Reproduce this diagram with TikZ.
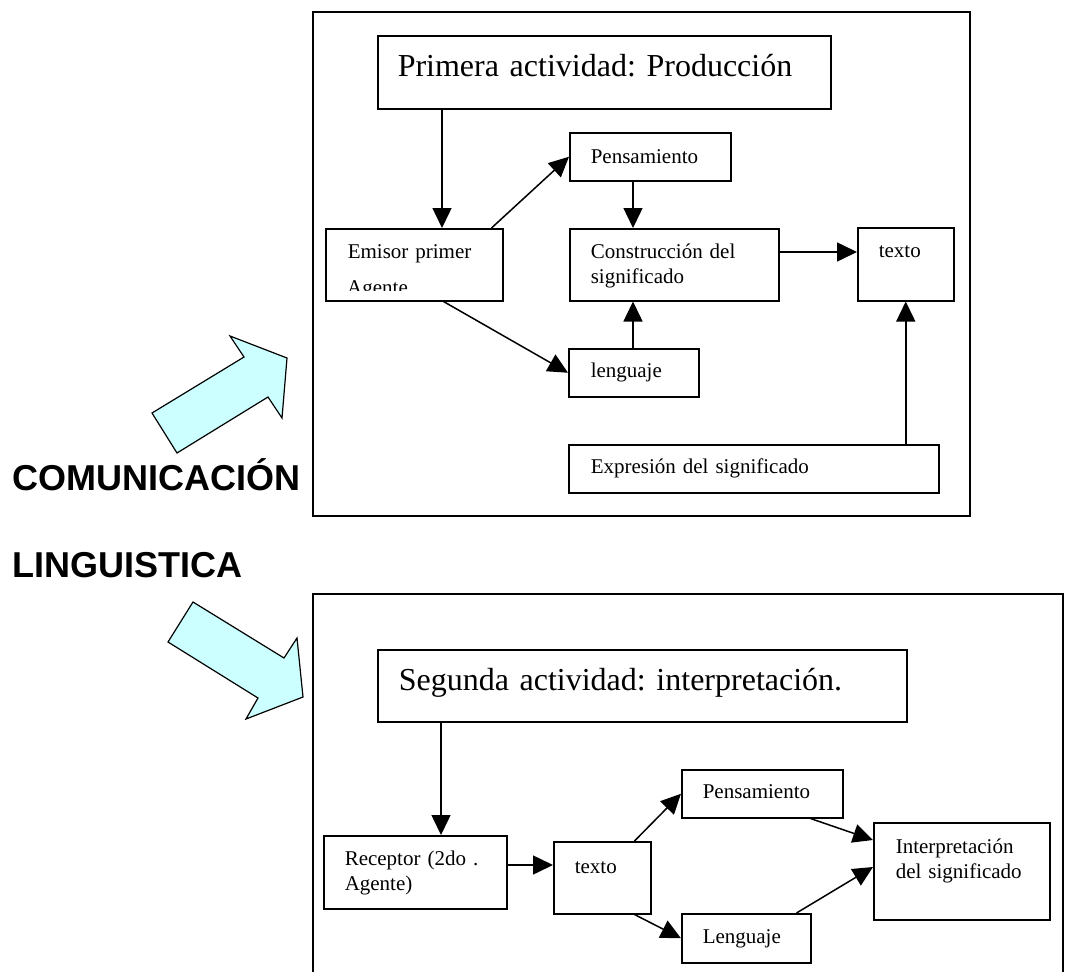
\documentclass[tikz,border=0pt]{standalone}
\usepackage{fontspec}
\setmainfont{Liberation Serif}
\newfontfamily\rotulofont{Liberation Sans}
\usetikzlibrary{arrows.meta, positioning, calc}
\definecolor{turquesa}{rgb}{0.8,1,1}
\frenchspacing

\begin{document}
\begin{tikzpicture}[x=1pt, y=-1pt,
	actbox/.style={draw, line width=1.5pt, anchor=north west, align=left, inner ysep=0pt, font=\fontsize{21}{25}\selectfont},
	titlebox/.style={actbox, font=\fontsize{32}{38}\selectfont},
	flecha/.style={line width=1.5pt, -{Triangle[length=20pt,width=19pt]}},
	bigarrow/.style={draw, line width=1.2pt, fill=turquesa, line join=miter}]
	\useasboundingbox (0,0) rectangle (1068,972);
	
	%----------------------------------------------------------------
	\draw [line width=1.5pt] (313,12) rectangle (970,516);
	\draw [line width=1.5pt] (313,972) |- (1063,594) -- (1063,972);
	
	\draw [bigarrow] (152,413) -- (244,357) -- (230,336) -- (287,358) -- (282,418) -- (268,397) -- (177,453) -- cycle;
	\draw [bigarrow] (193,602) -- (284,658) -- (297,638) -- (303,697) -- (246,719) -- (258,698) -- (168,642) -- cycle;
	
	\node(comu) [anchor=base west, inner sep=0pt, font=\rotulofont\bfseries\fontsize{36}{40}\selectfont] at (12,490) {COMUNICACIÓN};
	\node(ling) [anchor=base west, inner sep=0pt, font=\rotulofont\bfseries\fontsize{36}{40}\selectfont] at (12,577) {LINGUISTICA};
	
	%----------------------------------------------------------------
	\node(prod) [titlebox, inner xsep=20pt, text width=413pt, text height=41pt, text depth=32pt] at (377,35) {Primera actividad: Producción};
	\node(emisor) [actbox, inner xsep=22pt, text width=133pt, text height=30pt, text depth=42pt] at (325,228) {Emisor primer};
	\begin{scope}
		\clip (emisor.north west) rectangle ([yshift=11pt]emisor.south east);
		\node(agente) [anchor=base west, inner sep=0pt, font=\fontsize{21}{25}\selectfont] at (347,294) {Agente};
	\end{scope}
	\node(pens) [actbox, inner xsep=21pt, text width=119pt, text height=31pt, text depth=17pt] at (569,132) {Pensamiento};
	\node(constr) [actbox, inner xsep=21pt, text width=167pt, text height=30pt, text depth=42pt] at (569,228) {Construcción del\\ significado};
	\node(texto) [actbox, inner xsep=21pt, text width=54pt, text height=30pt, text depth=43pt] at (857,227) {texto};
	\node(leng) [actbox, inner xsep=22pt, text width=86pt, text height=29pt, text depth=19pt] at (568,348) {lenguaje};
	\node(expr) [actbox, inner xsep=22pt, text width=326pt, text height=29pt, text depth=19pt] at (568,444) {Expresión del significado};
	
	\draw [flecha] ([xshift=65pt]prod.south west) -- ([xshift=65pt]prod.south west |- emisor.north);
	\draw [flecha] ([xshift=-12pt]emisor.north east) -- (pens.west);
	\draw [flecha] ([xshift=-60pt]emisor.south east) -- (leng.west);
	\draw [flecha] ([xshift=64pt]pens.south west) -- ([xshift=64pt]pens.south west |- constr.north);
	\draw [flecha] ([xshift=65pt]leng.north west) -- ([xshift=65pt]leng.north west |- constr.south);
	\draw [flecha] ([yshift=-24pt]constr.north east) -- ([yshift=-24pt]constr.north east -| texto.west);
	\draw [flecha] (texto.south |- expr.north) -- (texto.south);
	
	%----------------------------------------------------------------
	\node(interp) [titlebox, inner xsep=21pt, text width=487pt, text height=41pt, text depth=31pt] at (377,649) {Segunda actividad: interpretación.};
	\node(recep) [actbox, inner xsep=21pt, text width=141pt, text height=30pt, text depth=43pt] at (323,835) {Receptor (2do .\\ Agente)};
	\node(texto2) [actbox, inner xsep=21pt, text width=55pt, text height=32pt, text depth=40pt] at (553,841) {texto};
	\node(pens2) [actbox, inner xsep=21pt, text width=119pt, text height=29pt, text depth=19pt] at (681,769) {Pensamiento};
	\node(leng2) [actbox, inner xsep=21pt, text width=87pt, text height=30pt, text depth=19pt] at (681,913) {Lenguaje};
	\node(signif) [actbox, inner xsep=22pt, text width=132pt, text height=31pt, text depth=66pt] at (873,822) {Interpretación\\ del significado};
	
	\draw [flecha] ([xshift=64pt]interp.south west) -- ([xshift=64pt]interp.south west |- recep.north);
	\draw [flecha] ([yshift=-30pt]recep.north east) -- ([yshift=-30pt]recep.north east -| texto2.west);
	\draw [flecha] ([xshift=-17pt]texto2.north east) -- (pens2.west);
	\draw [flecha] ([xshift=-17pt]texto2.south east) -- (leng2.west);
	\draw [flecha] ([xshift=-33pt]pens2.south east) -- ([yshift=-18pt]signif.north west);
	\draw [flecha] ([xshift=-15pt]leng2.north east) -- ([yshift=-45pt]signif.north west);
	
\end{tikzpicture}
\end{document}
